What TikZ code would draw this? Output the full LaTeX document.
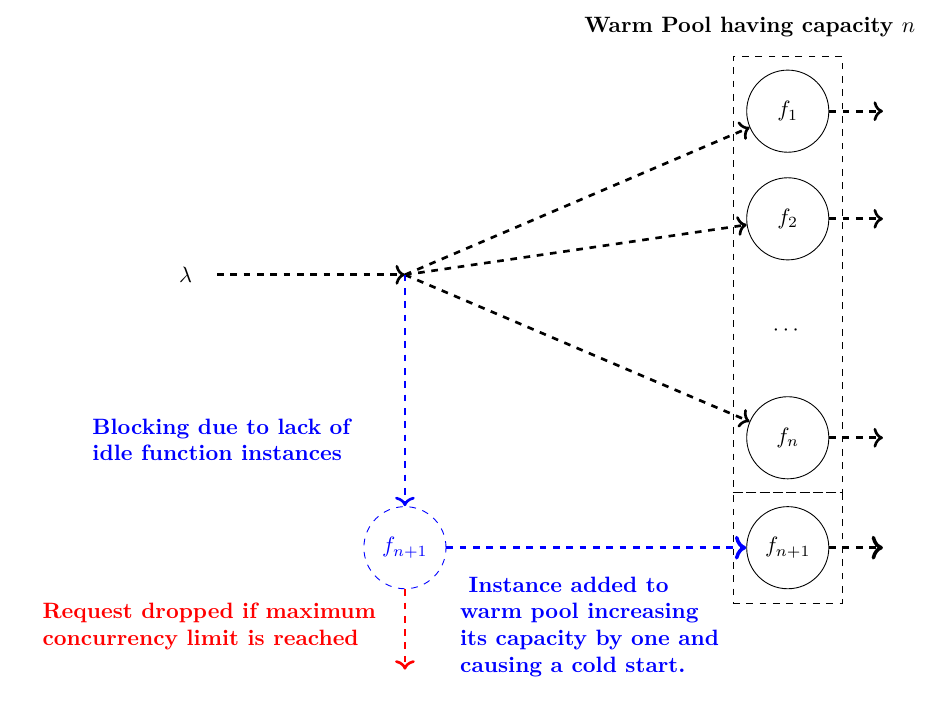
\documentclass[tikz,border=0pt]{standalone}
\usepackage{amsmath}
\usepackage{amssymb}
\usepackage{tikz}
\usetikzlibrary{arrows.meta, calc, fit}

\begin{document}
\begin{tikzpicture} [func/.style={draw, circle, minimum size=1.3cm, inner sep=0pt},
        flow/.style={->, dashed, very thick},
        pool/.style={draw, dashed, inner sep=0.21cm},
        note/.style={align=left, anchor=west, font=\bfseries}]
    %    \draw[help lines] (-6,-7) grid (8,4);
        \useasboundingbox (-6.41,-7.09) rectangle (8.28,4.35);

        \node (lambda) at (-3.47,0) {$\lambda$};
        \coordinate (split) at (0,0);

        % warm pool
        \node[func] (f1) at (6.06,2.59) {$f_1$};
        \node[func] (f2) at (6.06,0.886) {$f_2$};
        \node (dots) at (6.06,-0.88) {$\cdots$};
        \node[func] (fn) at (6.06,-2.58) {$f_n$};
        \node[func] (fnew) at (6.06,-4.32) {$f_{n+1}$};
        \node[func, dashed, blue] (fcold) at (0,-4.32) {$f_{n+1}$};

        \node[pool, fit=(f1)(fn)] (poolbox) {};
        \node[pool, fit=(fnew), inner ysep=0.22cm] (newbox) {};
        \node[font=\bfseries] (title) at (5.46,3.92) {Warm Pool having capacity $n$};

        \coordinate (drop) at (0,-6.25);

        \draw[flow] ([xshift=0.27cm]lambda.east) -- (split);
        \draw[flow] (split) -- (f1);
        \draw[flow] (split) -- (f2);
        \draw[flow] (split) -- (fn);
        \draw[flow] (f1.east) -- ($(f1.east)+(0.85,0)$);
        \draw[flow] (f2.east) -- ($(f2.east)+(0.85,0)$);
        \draw[flow] (fn.east) -- ($(fn.east)+(0.85,0)$);
        \draw[flow, ultra thick] (fnew.east) -- ($(fnew.east)+(0.85,0)$);

        \draw[flow, blue] (split) -- (fcold);
        \draw[flow, blue, ultra thick] (fcold) -- (fnew);
        \draw[flow, red] (fcold) -- (drop);

        \node[note, blue] (blocking) at (-5.07,-2.61) {Blocking due to lack of\\idle function instances};
        \node[note, red] (dropped) at (-5.86,-5.57) {Request dropped if maximum\\concurrency limit is reached};
        \node[note, blue] (added) at (0.75,-5.57) {\ Instance added to\\warm pool increasing\\its capacity by one and\\causing a cold start.};
        \end{tikzpicture}
\end{document}
